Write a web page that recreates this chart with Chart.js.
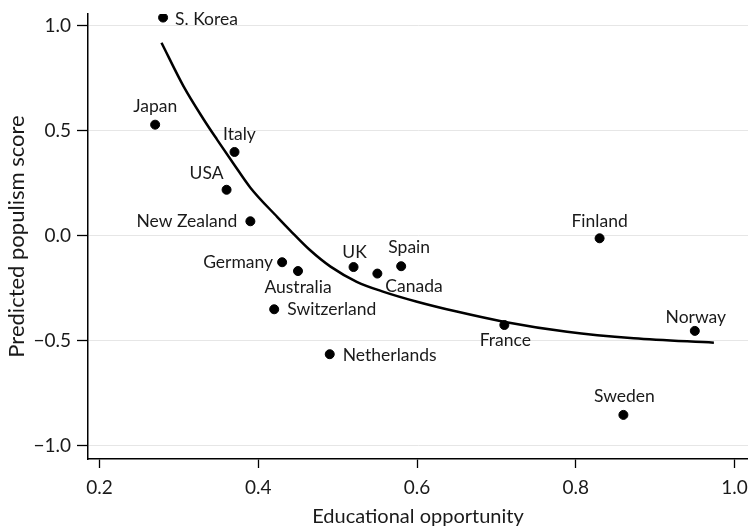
<!DOCTYPE html>
<html>
<head>
<meta charset="utf-8">
<script src="https://cdn.jsdelivr.net/npm/chart.js@4.4.1/dist/chart.umd.min.js"></script>
<style>
  html, body { margin: 0; padding: 0; background: #fff; }
  #wrap { width: 748px; height: 528px; }
</style>
</head>
<body>
<div id="wrap"><canvas id="chart" width="748" height="528"></canvas></div>
<script>
// Countries: educational opportunity vs predicted populism score
const countries = ['S. Korea', 'Japan', 'Italy', 'USA', 'New Zealand', 'Germany', 'Australia',
  'Switzerland', 'UK', 'Canada', 'Spain', 'Netherlands', 'France', 'Finland', 'Norway', 'Sweden'];
const opportunity = [0.28, 0.27, 0.37, 0.36, 0.39, 0.43, 0.45, 0.42, 0.52, 0.55, 0.58, 0.49, 0.71, 0.83, 0.95, 0.86];
const populism = [1.04, 0.53, 0.40, 0.22, 0.07, -0.125, -0.167, -0.349, -0.148, -0.179, -0.144, -0.563, -0.424, -0.011, -0.452, -0.852];

// fitted curve
const fitX = [0.278, 0.306, 0.331, 0.348, 0.369, 0.390, 0.424, 0.440, 0.465, 0.491, 0.524, 0.558, 0.600, 0.650, 0.709, 0.789, 0.873, 0.974];
const fitY = [0.920, 0.711, 0.556, 0.459, 0.343, 0.230, 0.090, 0.027, -0.067, -0.146, -0.218, -0.266, -0.313, -0.360, -0.408, -0.456, -0.487, -0.508];

const xTicks = [0.2, 0.4, 0.6, 0.8, 1.0];
const yTicks = [-1.0, -0.5, 0.0, 0.5, 1.0];

// where each country name sits around its dot: [align, dx, dy]
const labelPlacement = [
  ['left', 12, 2], ['center', 0, -18], ['center', 5, -18], ['center', -20, -16],
  ['right', -13, 0], ['right', -9, 0], ['center', 0, 16], ['left', 13, 0],
  ['center', 1, -15], ['left', 8, 13], ['center', 8, -19], ['left', 13, 1],
  ['center', 1, 15], ['center', 0, -17], ['center', 1, -14], ['center', 1, -19]
];

const FONT = 'Lato';

const pointLabels = {
  id: 'pointLabels',
  afterDatasetsDraw(chart) {
    const ctx = chart.ctx;
    const meta = chart.getDatasetMeta(1);
    ctx.save();
    ctx.font = '17.5px ' + FONT;
    ctx.fillStyle = '#1a1a1a';
    ctx.textBaseline = 'middle';
    meta.data.forEach((pt, i) => {
      const [align, dx, dy] = labelPlacement[i];
      ctx.textAlign = align;
      ctx.fillText(countries[i], pt.x + dx, pt.y + dy);
    });
    ctx.restore();
  }
};

new Chart(document.getElementById('chart'), {
  type: 'scatter',
  data: {
    datasets: [
      {
        type: 'line',
        data: fitX.map((x, i) => ({ x: x, y: fitY[i] })),
        borderColor: '#000',
        borderWidth: 2.5,
        pointRadius: 0,
        cubicInterpolationMode: 'monotone',
        fill: false
      },
      {
        data: opportunity.map((x, i) => ({ x: x, y: populism[i] })),
        backgroundColor: '#000',
        borderColor: '#000',
        pointRadius: 4.5,
        pointHoverRadius: 4.5
      }
    ]
  },
  options: {
    responsive: false,
    animation: false,
    layout: { autoPadding: false, padding: { top: 14, right: 0, left: 0, bottom: 0 } },
    plugins: {
      legend: { display: false },
      tooltip: { enabled: false }
    },
    scales: {
      x: {
        type: 'linear',
        min: 0.1854,
        max: 1.017,
        afterBuildTicks: (scale) => { scale.ticks = xTicks.map(v => ({ value: v })); },
        afterFit: (scale) => {
          scale.height = 69;
          scale.paddingLeft = 0;
          scale.paddingRight = 0;
        },
        grid: { color: 'rgba(0,0,0,0)', tickColor: '#000', tickLength: 9, tickWidth: 1.3 },
        border: { color: '#000', width: 1.5 },
        ticks: {
          color: '#1a1a1a', padding: 8, maxRotation: 0,
          font: { family: FONT, size: 19 },
          callback: (v) => v.toFixed(1)
        },
        title: {
          display: true, text: 'Educational opportunity', color: '#1a1a1a',
          font: { family: FONT, size: 20 }, padding: { top: 0, bottom: -1 }
        }
      },
      y: {
        type: 'linear',
        min: -1.062,
        max: 1.057,
        afterBuildTicks: (scale) => { scale.ticks = yTicks.map(v => ({ value: v })); },
        afterFit: (scale) => {
          scale.width = 88;
          scale.paddingTop = 0;
          scale.paddingBottom = 0;
        },
        grid: { color: '#e6e6e6', tickColor: '#000', tickLength: 11, lineWidth: 1, tickWidth: 1.3 },
        border: { color: '#000', width: 1.5 },
        ticks: {
          color: '#1a1a1a', padding: 6,
          font: { family: FONT, size: 19 },
          callback: (v) => (v < 0 ? '\u2212' + Math.abs(v).toFixed(1) : v.toFixed(1))
        },
        title: {
          display: true, text: 'Predicted populism score', color: '#1a1a1a',
          font: { family: FONT, size: 22 }, padding: { top: 4, bottom: 0 }
        }
      }
    }
  },
  plugins: [pointLabels]
});
</script>
</body>
</html>
